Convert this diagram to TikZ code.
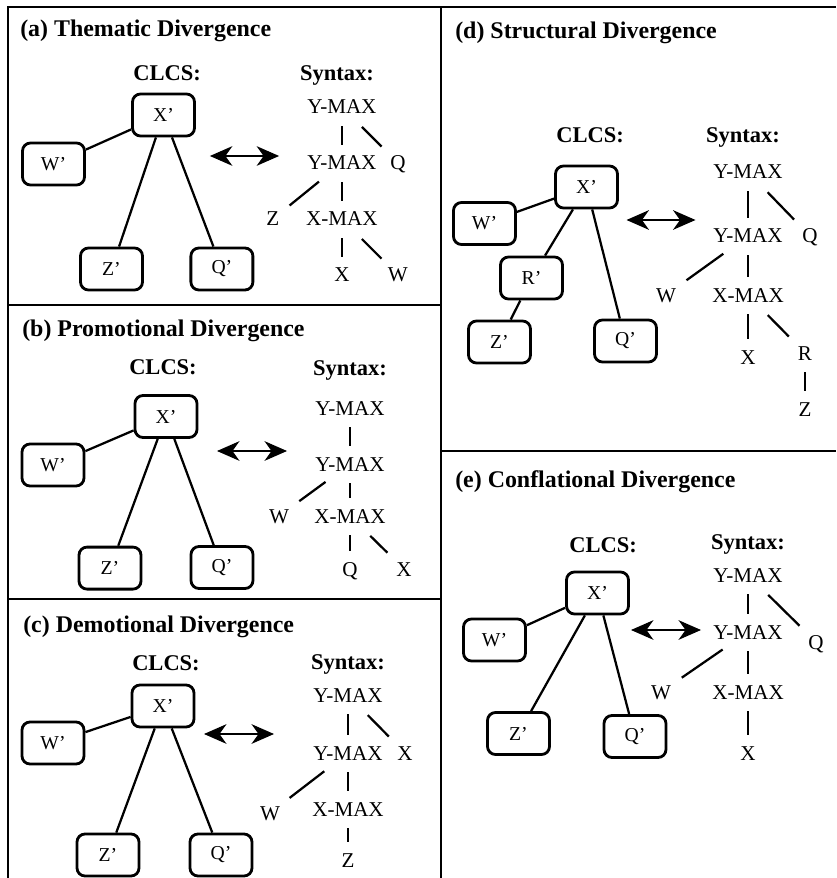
\documentclass[tikz,border=0pt]{standalone}
\usepackage{fontspec}
\setmainfont{Liberation Serif}
\usetikzlibrary{calc}
\usetikzlibrary{arrows.meta}
\tikzstyle{boxnode} = [draw, rounded corners=0.2cm, line width=2pt, minimum width=1.55cm, minimum height=1.05cm, font=\fontsize{14}{16}\selectfont]
\tikzstyle{synnode} = [inner sep=0pt, text height=0.35cm, text depth=0pt, font=\fontsize{15}{18}\selectfont]
\tikzstyle{headnode} = [anchor=base, inner sep=0pt, font=\bfseries\fontsize{16}{19}\selectfont]
\tikzstyle{titlenode} = [anchor=base west, inner sep=0pt, font=\bfseries\fontsize{17}{20}\selectfont]
\tikzstyle{link} = [line width=1.6pt]
\tikzstyle{vbranch} = [line width=1.6pt, shorten <=0.3cm, shorten >=0.28cm]
\tikzstyle{dbranch} = [line width=1.6pt, shorten <=0.45cm, shorten >=0.32cm]
\tikzstyle{dblarrow} = [line width=0.8pt, {Stealth[length=16pt,width=14pt,inset=5pt]}-{Stealth[length=16pt,width=14pt,inset=5pt]}]
\tikzstyle{frame} = [line width=2pt]

\begin{document}
\begin{tikzpicture}
\useasboundingbox (0,0) rectangle (20.9,-21.95);

% panel frame
\draw[frame] (20.9,-0.175) -- (0.2,-0.175) -- (0.2,-21.95);
\draw[frame] (11.025,-0.175) -- (11.025,-21.95);
\draw[frame] (0.2,-7.625) -- (11.025,-7.625);
\draw[frame] (0.2,-14.975) -- (11.025,-14.975);
\draw[frame] (11.025,-11.275) -- (20.9,-11.275);

% (a) thematic
\node[titlenode] (a_title) at (0.5,-0.925) {(a) Thematic Divergence};
\node[boxnode] (a_xp) at (4.0875,-2.875) {X'};
\node[headnode] (a_clcs) at ($(a_xp)+(0.09,0.85)$) {CLCS:};
\node[boxnode] (a_wp) at ($(a_xp)+(-2.75,-1.225)$) {W'};
\node[boxnode] (a_zp) at ($(a_xp)+(-1.3,-3.85)$) {Z'};
\node[boxnode] (a_qp) at ($(a_xp)+(1.46,-3.85)$) {Q'};
\draw[link] (a_xp) -- (a_wp);
\draw[link] (a_xp) -- (a_zp);
\draw[link] (a_xp) -- (a_qp);
\coordinate (a_left) at ($(a_xp)+(1.16,-1.025)$);
\coordinate (a_right) at ($(a_xp)+(2.89,-1.025)$);
\draw[dblarrow] (a_left) -- (a_right);
\node[synnode] (a_ymax1) at ($(a_xp)+(4.46,0.2)$) {Y-MAX};
\node[headnode] (a_syntax) at ($(a_ymax1)+(-0.125,0.65)$) {Syntax:};
\node[synnode] (a_ymax2) at ($(a_ymax1)+(0,-1.4)$) {Y-MAX};
\node[synnode] (a_q) at ($(a_ymax1)+(1.4,-1.4)$) {Q};
\node[synnode] (a_xmax) at ($(a_ymax2)+(0,-1.4)$) {X-MAX};
\node[synnode] (a_z) at ($(a_ymax2)+(-1.725,-1.4)$) {Z};
\node[synnode] (a_x) at ($(a_xmax)+(0,-1.4)$) {X};
\node[synnode] (a_w) at ($(a_xmax)+(1.4,-1.4)$) {W};
\draw[vbranch] (a_ymax1) -- (a_ymax2);
\draw[dbranch] (a_ymax1) -- (a_q);
\draw[vbranch] (a_ymax2) -- (a_xmax);
\draw[dbranch] (a_ymax2) -- (a_z);
\draw[vbranch] (a_xmax) -- (a_x);
\draw[dbranch] (a_xmax) -- (a_w);

% (b) promotional
\node[titlenode] (b_title) at (0.55,-8.4) {(b) Promotional Divergence};
\node[boxnode] (b_xp) at (4.15,-10.4125) {X'};
\node[headnode] (b_clcs) at ($(b_xp)+(-0.075,1.04)$) {CLCS:};
\node[boxnode] (b_wp) at ($(b_xp)+(-2.825,-1.2125)$) {W'};
\node[boxnode] (b_zp) at ($(b_xp)+(-1.4,-3.79)$) {Z'};
\node[boxnode] (b_qp) at ($(b_xp)+(1.4,-3.775)$) {Q'};
\draw[link] (b_xp) -- (b_wp);
\draw[link] (b_xp) -- (b_zp);
\draw[link] (b_xp) -- (b_qp);
\coordinate (b_left) at ($(b_xp)+(1.275,-0.8625)$);
\coordinate (b_right) at ($(b_xp)+(3.025,-0.8625)$);
\draw[dblarrow] (b_left) -- (b_right);
\node[synnode] (b_ymax1) at ($(b_xp)+(4.6,0.2125)$) {Y-MAX};
\node[headnode] (b_syntax) at ($(b_ymax1)+(0,0.825)$) {Syntax:};
\node[synnode] (b_ymax2) at ($(b_ymax1)+(0,-1.4)$) {Y-MAX};
\node[synnode] (b_xmax) at ($(b_ymax2)+(0,-1.3)$) {X-MAX};
\node[synnode] (b_w) at ($(b_xmax)+(-1.775,0)$) {W};
\node[synnode] (b_q) at ($(b_xmax)+(0,-1.325)$) {Q};
\node[synnode] (b_x) at ($(b_xmax)+(1.35,-1.325)$) {X};
\draw[vbranch] (b_ymax1) -- (b_ymax2);
\draw[vbranch] (b_ymax2) -- (b_xmax);
\draw[dbranch] (b_ymax2) -- (b_w);
\draw[vbranch] (b_xmax) -- (b_q);
\draw[dbranch] (b_xmax) -- (b_x);

% (c) demotional
\node[titlenode] (c_title) at (0.575,-15.8) {(c) Demotional Divergence};
\node[boxnode] (c_xp) at (4.075,-17.65) {X'};
\node[headnode] (c_clcs) at ($(c_xp)+(0.075,0.9)$) {CLCS:};
\node[boxnode] (c_wp) at ($(c_xp)+(-2.75,-0.925)$) {W'};
\node[boxnode] (c_zp) at ($(c_xp)+(-1.375,-3.725)$) {Z'};
\node[boxnode] (c_qp) at ($(c_xp)+(1.45,-3.725)$) {Q'};
\draw[link] (c_xp) -- (c_wp);
\draw[link] (c_xp) -- (c_zp);
\draw[link] (c_xp) -- (c_qp);
\coordinate (c_left) at ($(c_xp)+(1.025,-0.7)$);
\coordinate (c_right) at ($(c_xp)+(2.775,-0.7)$);
\draw[dblarrow] (c_left) -- (c_right);
\node[synnode] (c_ymax1) at ($(c_xp)+(4.625,0.275)$) {Y-MAX};
\node[headnode] (c_syntax) at ($(c_ymax1)+(0,0.65)$) {Syntax:};
\node[synnode] (c_ymax2) at ($(c_ymax1)+(0,-1.45)$) {Y-MAX};
\node[synnode] (c_x) at ($(c_ymax2)+(1.425,0)$) {X};
\node[synnode] (c_xmax) at ($(c_ymax2)+(0,-1.4)$) {X-MAX};
\node[synnode] (c_w) at ($(c_ymax2)+(-1.95,-1.5)$) {W};
\node[synnode] (c_z) at ($(c_xmax)+(0,-1.275)$) {Z};
\draw[vbranch] (c_ymax1) -- (c_ymax2);
\draw[dbranch] (c_ymax1) -- (c_x);
\draw[vbranch] (c_ymax2) -- (c_xmax);
\draw[dbranch] (c_ymax2) -- (c_w);
\draw[vbranch] (c_xmax) -- (c_z);

% (d) structural
\node[titlenode] (d_title) at (11.375,-0.975) {(d) Structural Divergence};
\node[boxnode] (d_xp) at (14.6625,-4.675) {X'};
\node[headnode] (d_clcs) at ($(d_xp)+(0.09,1.1)$) {CLCS:};
\node[boxnode] (d_wp) at ($(d_xp)+(-2.55,-0.9125)$) {W'};
\node[boxnode] (d_rp) at ($(d_xp)+(-1.375,-2.275)$) {R'};
\node[boxnode] (d_zp) at ($(d_rp)+(-0.8,-1.6)$) {Z'};
\node[boxnode] (d_qp) at ($(d_xp)+(0.975,-3.85)$) {Q'};
\draw[link] (d_xp) -- (d_wp);
\draw[link] (d_xp) -- (d_rp);
\draw[link] (d_rp) -- (d_zp);
\draw[link] (d_xp) -- (d_qp);
\coordinate (d_left) at ($(d_xp)+(1.0,-0.825)$);
\coordinate (d_right) at ($(d_xp)+(2.725,-0.825)$);
\draw[dblarrow] (d_left) -- (d_right);
\node[synnode] (d_ymax1) at ($(d_xp)+(4.0375,0.375)$) {Y-MAX};
\node[headnode] (d_syntax) at ($(d_ymax1)+(-0.125,0.725)$) {Syntax:};
\node[synnode] (d_ymax2) at ($(d_ymax1)+(0,-1.6)$) {Y-MAX};
\node[synnode] (d_q) at ($(d_ymax2)+(1.55,0)$) {Q};
\node[synnode] (d_xmax) at ($(d_ymax2)+(0,-1.475)$) {X-MAX};
\node[synnode] (d_w) at ($(d_xmax)+(-2.05,0)$) {W};
\node[synnode] (d_x) at ($(d_xmax)+(0,-1.55)$) {X};
\node[synnode] (d_r) at ($(d_xmax)+(1.425,-1.45)$) {R};
\node[synnode] (d_z) at ($(d_r)+(0,-1.4)$) {Z};
\draw[vbranch] (d_ymax1) -- (d_ymax2);
\draw[dbranch] (d_ymax1) -- (d_q);
\draw[vbranch] (d_ymax2) -- (d_xmax);
\draw[dbranch] (d_ymax2) -- (d_w);
\draw[vbranch] (d_xmax) -- (d_x);
\draw[dbranch] (d_xmax) -- (d_r);
\draw[vbranch] (d_r) -- (d_z);

% (e) conflational
\node[titlenode] (e_title) at (11.375,-12.175) {(e) Conflational Divergence};
\node[boxnode] (e_xp) at (14.9375,-14.825) {X'};
\node[headnode] (e_clcs) at ($(e_xp)+(0.1375,1.025)$) {CLCS:};
\node[boxnode] (e_wp) at ($(e_xp)+(-2.575,-1.175)$) {W'};
\node[boxnode] (e_zp) at ($(e_xp)+(-1.975,-3.5125)$) {Z'};
\node[boxnode] (e_qp) at ($(e_xp)+(0.9375,-3.5875)$) {Q'};
\draw[link] (e_xp) -- (e_wp);
\draw[link] (e_xp) -- (e_zp);
\draw[link] (e_xp) -- (e_qp);
\coordinate (e_left) at ($(e_xp)+(0.8375,-0.925)$);
\coordinate (e_right) at ($(e_xp)+(2.5875,-0.925)$);
\draw[dblarrow] (e_left) -- (e_right);
\node[synnode] (e_ymax1) at ($(e_xp)+(3.7625,0.45)$) {Y-MAX};
\node[headnode] (e_syntax) at ($(e_ymax1)+(0,0.65)$) {Syntax:};
\node[synnode] (e_ymax2) at ($(e_ymax1)+(0,-1.425)$) {Y-MAX};
\node[synnode] (e_q) at ($(e_ymax1)+(1.7,-1.675)$) {Q};
\node[synnode] (e_xmax) at ($(e_ymax2)+(0,-1.5)$) {X-MAX};
\node[synnode] (e_w) at ($(e_xmax)+(-2.175,0)$) {W};
\node[synnode] (e_x) at ($(e_xmax)+(0,-1.525)$) {X};
\draw[vbranch] (e_ymax1) -- (e_ymax2);
\draw[dbranch] (e_ymax1) -- (e_q);
\draw[vbranch] (e_ymax2) -- (e_xmax);
\draw[dbranch] (e_ymax2) -- (e_w);
\draw[vbranch] (e_xmax) -- (e_x);
\end{tikzpicture}
\end{document}
